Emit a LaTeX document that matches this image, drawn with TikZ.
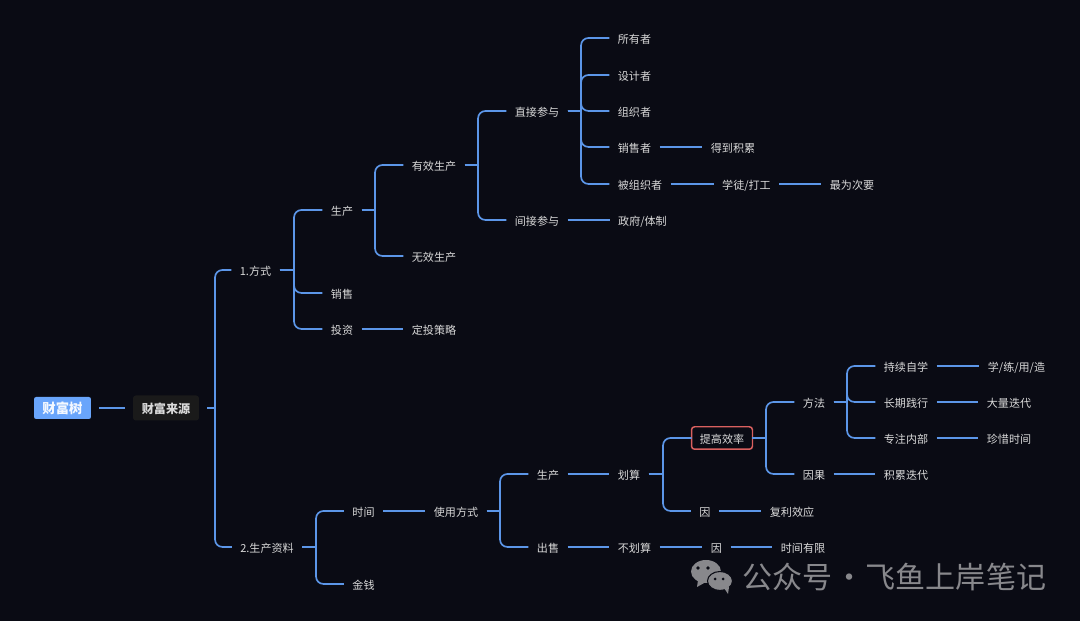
\documentclass[tikz,border=0pt]{standalone}
\usepackage{fontspec}
\setmainfont{Noto Sans CJK SC}
\usepackage{xcolor}
\usetikzlibrary{calc}

\definecolor{bgdark}{HTML}{0A0B14}
\definecolor{linkblue}{HTML}{5C96E8}
\definecolor{rootblue}{HTML}{69A5FB}
\definecolor{srcblack}{HTML}{1A1A1A}
\definecolor{labelgray}{HTML}{D9D9D9}
\definecolor{markred}{HTML}{D9605F}
\definecolor{wmgray}{HTML}{88888C}

\tikzset{
  topic/.style={text=labelgray, inner xsep=0pt, inner ysep=0pt, outer xsep=0.17cm, outer ysep=0pt,
    font=\fontsize{6.3}{8}\selectfont, text height=6pt, text depth=0pt},
  rootbox/.style={topic, fill=rootblue, rounded corners=1.2pt, text=white!92!rootblue, minimum width=1.14cm, minimum height=0.44cm,
    font=\fontsize{7.6}{9}\selectfont\bfseries},
  srcbox/.style={topic, fill=srcblack, rounded corners=1.6pt, text=labelgray, minimum width=1.32cm, minimum height=0.5cm,
    font=\fontsize{6.9}{9}\selectfont\bfseries},
  markbox/.style={topic, draw=markred, outer xsep=0pt, line width=0.85pt, rounded corners=1.8pt, minimum width=1.22cm, minimum height=0.45cm},
  link/.style={draw=linkblue, line width=0.95pt, rounded corners=0.15cm},
  wmark/.style={text=wmgray, font=\fontsize{17.1}{20}\selectfont, inner sep=0pt}
}

\begin{document}
\begin{tikzpicture}[x=0.02cm, y=-0.02cm]
  % Background
  \fill[bgdark] (0,0) rectangle (1080,621);
  \useasboundingbox (0,0) rectangle (1080,621);

  % Branch macro
  \newcommand{\branch}[3]{
    % #1: parent node, #2: child node, #3: x of the vertical bus
    \draw[link] (#1.east) -- (#3 |- #1.east);
    \draw[link] (#3 |- #1.east) -- (#3 |- #2.west) -- (#2.west);
  }

  % Root and first level
  \node[rootbox] (caifushu) at (62.5,408) {财富树};
  \node[srcbox] (laiyuan) at (166,408) {财富来源};
  \node[topic] (fangshi) at (255.5,270) {1.方式};
  \node[topic] (ziliao) at (267,547) {2.生产资料};

  % Upper half
  \node[topic] (shengchan) at (342,210) {生产};
  \node[topic] (xiaoshou) at (342,293) {销售};
  \node[topic] (touzi) at (342,329) {投资};
  \node[topic] (youxiao) at (434,165) {有效生产};
  \node[topic] (wuxiao) at (434,256) {无效生产};
  \node[topic] (dingtou) at (434,329) {定投策略};
  \node[topic] (zhijie) at (537,111) {直接参与};
  \node[topic] (jianjie) at (537,220) {间接参与};
  \node[topic] (suoyou) at (634.5,38) {所有者};
  \node[topic] (sheji) at (634.5,75) {设计者};
  \node[topic] (zuzhi) at (634.5,111) {组织者};
  \node[topic] (xiaoshouzhe) at (634.5,147) {销售者};
  \node[topic] (beizuzhi) at (640,184) {被组织者};
  \node[topic] (zhengfu) at (642.5,220) {政府/体制};
  \node[topic] (jilei) at (733,147) {得到积累};
  \node[topic] (xuetu) at (746.5,184) {学徒/打工};
  \node[topic] (ciyao) at (852,184) {最为次要};

  % Lower half
  \node[topic] (shijian) at (363.5,511) {时间};
  \node[topic] (jinqian) at (363.5,584) {金钱};
  \node[topic] (shiyong) at (456,511) {使用方式};
  \node[topic] (shengchanb) at (548,474) {生产};
  \node[topic] (chushou) at (548,547) {出售};
  \node[topic] (huasuan) at (629,474) {划算};
  \node[topic] (buhuasuan) at (634.5,547) {不划算};
  \node[markbox] (xiaolv) at (722,438) {提高效率};
  \node[topic] (yin) at (705,511) {因};
  \node[topic] (fuli) at (792,511) {复利效应};
  \node[topic] (yinb) at (716.5,547) {因};
  \node[topic] (youxian) at (803,547) {时间有限};
  \node[topic] (fangfa) at (814,402) {方法};
  \node[topic] (yinguo) at (814,474) {因果};
  \node[topic] (diedai) at (906,474) {积累迭代};
  \node[topic] (zixue) at (906,366) {持续自学};
  \node[topic] (jianxing) at (906,402) {长期践行};
  \node[topic] (neibu) at (906,438) {专注内部};
  \node[topic] (xuelian) at (1016.5,366) {学/练/用/造};
  \node[topic] (dieliang) at (1009,402) {大量迭代};
  \node[topic] (zhenxi) at (1009,438) {珍惜时间};

  % Vertical buses
  \coordinate (busroot) at (215,0);
  \coordinate (busfang) at (294,0);
  \coordinate (busshi) at (375,0);
  \coordinate (busyou) at (478,0);
  \coordinate (buszhi) at (581,0);
  \coordinate (busliao) at (316,0);
  \coordinate (busyong) at (500,0);
  \coordinate (bushua) at (663,0);
  \coordinate (busxiao) at (766,0);
  \coordinate (busfa) at (847,0);

  % Connectors, upper half
  \draw[link] (caifushu) -- (laiyuan);
  \branch{laiyuan}{fangshi}{busroot}
  \branch{laiyuan}{ziliao}{busroot}
  \branch{fangshi}{shengchan}{busfang}
  \branch{fangshi}{xiaoshou}{busfang}
  \branch{fangshi}{touzi}{busfang}
  \branch{shengchan}{youxiao}{busshi}
  \branch{shengchan}{wuxiao}{busshi}
  \draw[link] (touzi) -- (dingtou);
  \branch{youxiao}{zhijie}{busyou}
  \branch{youxiao}{jianjie}{busyou}
  \branch{zhijie}{suoyou}{buszhi}
  \branch{zhijie}{sheji}{buszhi}
  \branch{zhijie}{zuzhi}{buszhi}
  \branch{zhijie}{xiaoshouzhe}{buszhi}
  \branch{zhijie}{beizuzhi}{buszhi}
  \draw[link] (jianjie) -- (zhengfu);
  \draw[link] (xiaoshouzhe) -- (jilei);
  \draw[link] (beizuzhi) -- (xuetu);
  \draw[link] (xuetu) -- (ciyao);

  % Connectors, lower half
  \branch{ziliao}{shijian}{busliao}
  \branch{ziliao}{jinqian}{busliao}
  \draw[link] (shijian) -- (shiyong);
  \branch{shiyong}{shengchanb}{busyong}
  \branch{shiyong}{chushou}{busyong}
  \draw[link] (shengchanb) -- (huasuan);
  \draw[link] (chushou) -- (buhuasuan);
  \branch{huasuan}{xiaolv}{bushua}
  \branch{huasuan}{yin}{bushua}
  \draw[link] (yin) -- (fuli);
  \draw[link] (buhuasuan) -- (yinb);
  \draw[link] (yinb) -- (youxian);
  \branch{xiaolv}{fangfa}{busxiao}
  \branch{xiaolv}{yinguo}{busxiao}
  \branch{fangfa}{zixue}{busfa}
  \branch{fangfa}{jianxing}{busfa}
  \branch{fangfa}{neibu}{busfa}
  \draw[link] (yinguo) -- (diedai);
  \draw[link] (zixue) -- (xuelian);
  \draw[link] (jianxing) -- (dieliang);
  \draw[link] (neibu) -- (zhenxi);

  % Watermark
  \fill[wmgray] (706,571.5) ellipse (15 and 11.5);
  \fill[wmgray] (698,580) -- (697,587) -- (706,582) -- cycle;
  \fill[wmgray, draw=bgdark, line width=0.6pt] (720,581) ellipse (12.5 and 9.5);
  \fill[wmgray] (724,588) -- (728,594) -- (729,587) -- cycle;
  \fill[bgdark] (698,568) circle (1.8) (708,568) circle (1.8) (715,579) circle (1.5) (723,579) circle (1.5);
  \node[wmark, anchor=west] (gongzhong) at (742,577) {公众号\makebox[19pt]{·}飞鱼上岸笔记};
\end{tikzpicture}
\end{document}
